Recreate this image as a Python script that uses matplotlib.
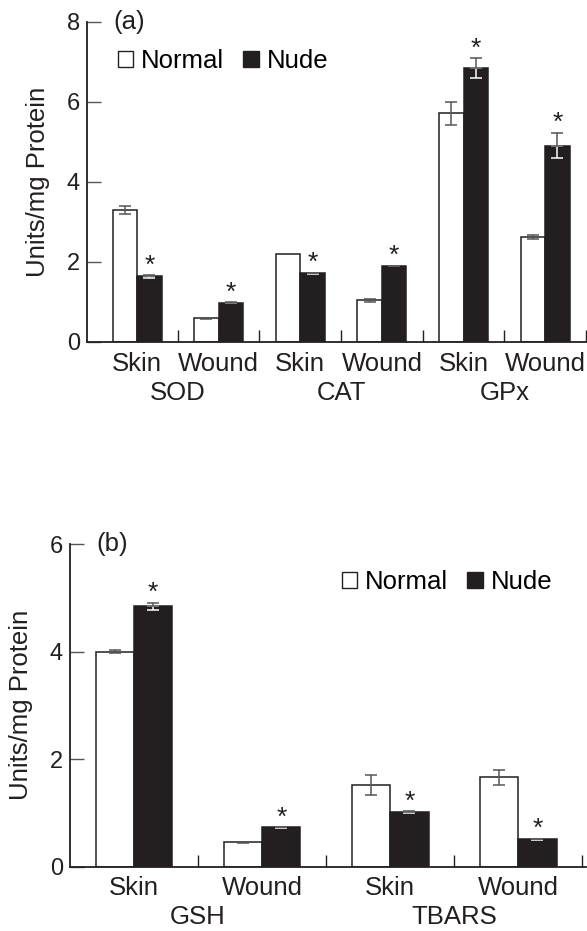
import numpy as np
import matplotlib
matplotlib.use('Agg')
import matplotlib.pyplot as plt
from matplotlib.patches import Patch

plt.rcParams['font.family'] = ['Liberation Sans', 'DejaVu Sans']

# panel (a): enzyme activities
groups_a = ['SOD', 'CAT', 'GPx']
sites_a = ['Skin', 'Wound', 'Skin', 'Wound', 'Skin', 'Wound']
normal_a = [3.30, 0.59, 2.20, 1.04, 5.72, 2.63]
normal_a_err = [0.11, 0.01, 0.01, 0.03, 0.29, 0.05]
nude_a = [1.64, 0.98, 1.72, 1.90, 6.84, 4.91]
nude_a_err = [0.03, 0.01, 0.01, 0.01, 0.25, 0.32]
sig_a = [True, True, True, True, True, True]

# panel (b): GSH and TBARS
groups_b = ['GSH', 'TBARS']
sites_b = ['Skin', 'Wound', 'Skin', 'Wound']
normal_b = [4.00, 0.45, 1.52, 1.66]
normal_b_err = [0.02, 0.01, 0.19, 0.14]
nude_b = [4.84, 0.73, 1.01, 0.51]
nude_b_err = [0.07, 0.01, 0.02, 0.01]
sig_b = [True, True, True, True]

BLACK = '#231f20'
GREY = '#555555'
W = 0.3
FS = 18.5
TFS = 17

fig = plt.figure(figsize=(5.87, 9.31), dpi=100)
ax_a = fig.add_axes([87/587, 1-342/931, 499/587, 320/931])
ax_b = fig.add_axes([70/587, 1-866.7/931, 516/587, 322.7/931])


def draw(ax, normal, nerr, nude, uerr, sig, sites, groups, ymax, xlim, cat_y, tag, leg_xy):
    x = np.arange(len(normal))
    ax.bar(x - W/2, normal, W, color='white', edgecolor=BLACK, linewidth=1.1, zorder=2)
    ax.bar(x + W/2, nude, W, color=BLACK, edgecolor=BLACK, linewidth=1.1, zorder=2)
    ax.errorbar(x - W/2, normal, yerr=nerr, fmt='none', ecolor=GREY,
                elinewidth=1.1, capsize=4, capthick=1.1, zorder=3)
    # error bars on the black bars: white inside the bar, grey above it
    zero = np.zeros(len(nude))
    ax.errorbar(x + W/2, nude, yerr=[uerr, zero], fmt='none', ecolor='white',
                elinewidth=1.1, capsize=4, capthick=1.1, zorder=3)
    ax.errorbar(x + W/2, nude, yerr=[zero, uerr], fmt='none', ecolor=GREY,
                elinewidth=1.1, capsize=4, capthick=1.1, zorder=4)
    for i in range(len(nude)):
        if sig[i]:
            ax.annotate('*', xy=(x[i] + W/2, nude[i] + uerr[i]), xytext=(0, 1.8),
                        textcoords='offset points', ha='center', va='baseline',
                        fontsize=19, color=BLACK)

    ax.set_xlim(*xlim)
    ax.set_ylim(0, ymax)
    ax.set_yticks(np.arange(0, ymax + 1, 2))
    ax.tick_params(axis='y', direction='in', length=10, width=1, color=GREY,
                   labelsize=TFS, pad=5, labelcolor=BLACK)
    ax.set_xticks(x)
    ax.set_xticklabels(sites, fontsize=FS, color=BLACK)
    ax.set_xticks(np.arange(0.5, len(normal), 1), minor=True)
    ax.tick_params(axis='x', which='major', length=0, pad=7)
    ax.tick_params(axis='x', which='minor', direction='in', length=9, width=1, color=BLACK)
    for s in ['top', 'right']:
        ax.spines[s].set_visible(False)
    for s in ['left', 'bottom']:
        ax.spines[s].set_color(BLACK)
        ax.spines[s].set_linewidth(1.3)

    for j, g in enumerate(groups):
        ax.text(2*j + 0.5, cat_y, g, transform=ax.get_xaxis_transform(),
                ha='center', va='center', fontsize=FS, color=BLACK)

    ax.text(0.052, 1.0, tag, transform=ax.transAxes, ha='left', va='center',
            fontsize=FS, color=BLACK)
    ax.set_ylabel('Units/mg Protein', fontsize=FS, color=BLACK, va='center')

    handles = [Patch(facecolor='white', edgecolor=BLACK, linewidth=1),
               Patch(facecolor=BLACK, edgecolor=BLACK, linewidth=1)]
    ax.legend(handles, ['Normal', 'Nude'], loc='center left', bbox_to_anchor=leg_xy,
              ncol=2, frameon=False, fontsize=FS, handlelength=0.6, handleheight=0.6,
              handletextpad=0.3, columnspacing=0.75, borderpad=0, borderaxespad=0)


draw(ax_a, normal_a, normal_a_err, nude_a, nude_a_err, sig_a, sites_a, groups_a,
     8, (-0.613, 5.5), -0.158, '(a)', (0.062, 0.878))
ax_a.yaxis.set_label_coords(-(87-38)/499, 0.5)

draw(ax_b, normal_b, normal_b_err, nude_b, nude_b_err, sig_b, sites_b, groups_b,
     6, (-0.5, 3.53), -0.155, '(b)', (0.527, 0.882))
ax_b.yaxis.set_label_coords(-(70-21)/516, 0.5)

fig.savefig('out.png', dpi=100)
